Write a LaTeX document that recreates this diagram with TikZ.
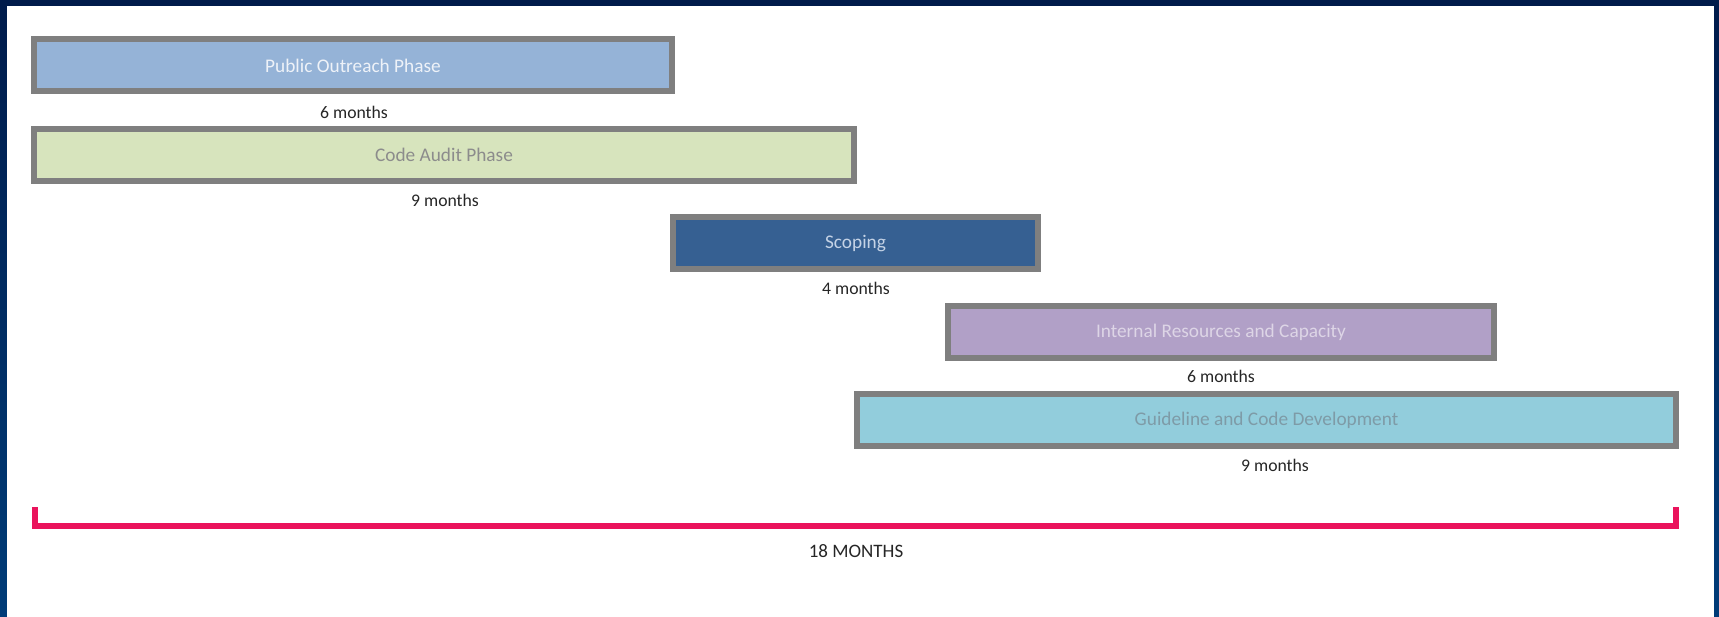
\documentclass[tikz,border=0pt]{standalone}
\usepackage{fontspec}
\setmainfont{Carlito}
\definecolor{navytop}{HTML}{001B4B}
\definecolor{navybot}{HTML}{003C78}
\definecolor{edgegray}{HTML}{7F7F7F}
\definecolor{pofill}{HTML}{95B3D7}
\definecolor{cafill}{HTML}{D7E4BD}
\definecolor{scfill}{HTML}{366092}
\definecolor{irfill}{HTML}{B1A0C7}
\definecolor{gdfill}{HTML}{92CDDC}
\definecolor{potext}{HTML}{EEF2F8}
\definecolor{catext}{HTML}{8C8C8C}
\definecolor{sctext}{HTML}{C5D3E6}
\definecolor{irtext}{HTML}{DDD5E6}
\definecolor{gdtext}{HTML}{7E9BA7}
\definecolor{labeltext}{HTML}{262626}
\definecolor{bracketpink}{HTML}{EA135C}
\begin{document}
\begin{tikzpicture}[x=1pt,y=-1pt,
  phasebox/.style={draw=edgegray, line width=6pt, rectangle, inner sep=0pt,
    minimum height=52pt, font=\fontsize{19.3}{22}\selectfont},
  durlabel/.style={text=labeltext, inner sep=0pt, font=\fontsize{17.7}{20}\selectfont},
  bracketline/.style={draw=bracketpink, line width=6pt, line join=miter}]
\shade[top color=navytop, bottom color=navybot] (0,0) rectangle (1719,617);
\useasboundingbox (0,0) rectangle (1719,617);
\fill[white] (7,6) rectangle (1714,617);

\node[phasebox, fill=pofill, text=potext, minimum width=638pt] (po) at (353,65.5) {Public Outreach Phase};
\node[durlabel] (pol) at (354,112) {6 months};
\node[phasebox, fill=cafill, text=catext, minimum width=820pt] (ca) at (444,155) {Code Audit Phase};
\node[durlabel] (cal) at (445,200) {9 months};
\node[phasebox, fill=scfill, text=sctext, minimum width=365pt] (sc) at (855.5,243.5) {Scoping};
\node[durlabel] (scl) at (856,288) {4 months};
\node[phasebox, fill=irfill, text=irtext, minimum width=546pt] (ir) at (1221,332) {Internal Resources and Capacity};
\node[durlabel] (irl) at (1221,376) {6 months};
\node[phasebox, fill=gdfill, text=gdtext, minimum width=819pt] (gd) at (1266.5,420) {Guideline and Code Development};
\node[durlabel] (gdl) at (1275,465) {9 months};

\coordinate (bltop) at (35,507);
\coordinate (blbot) at (35,526);
\coordinate (brbot) at (1676,526);
\coordinate (brtop) at (1676,507);
\draw[bracketline] (bltop) -- (blbot) -- (brbot) -- (brtop);
\node[durlabel, font=\fontsize{19}{22}\selectfont] (total) at (856,551) {18 MONTHS};
\end{tikzpicture}
\end{document}
